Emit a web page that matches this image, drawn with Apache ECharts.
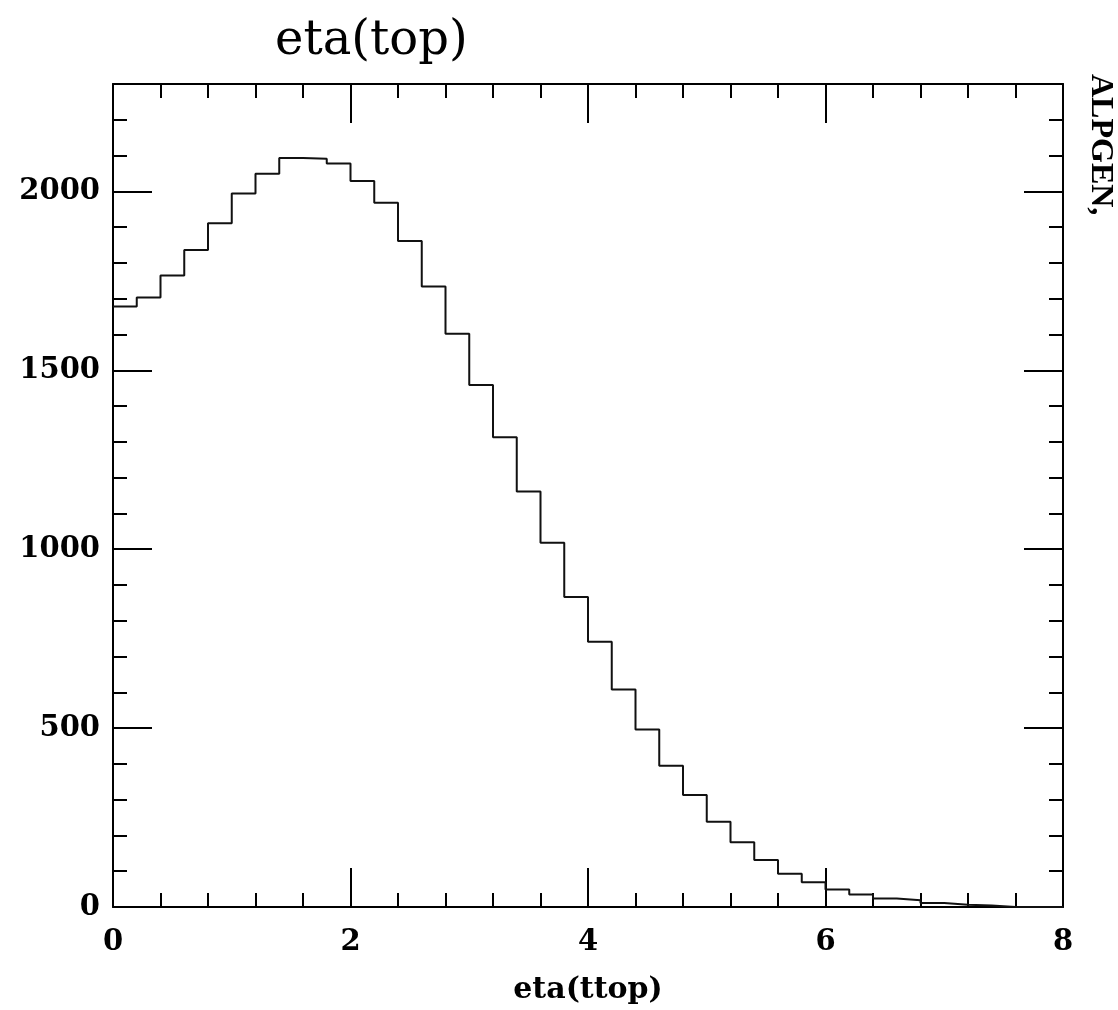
<!DOCTYPE html>
<html>
<head>
<meta charset="utf-8">
<script src="https://cdn.jsdelivr.net/npm/echarts@6/dist/echarts.min.js"></script>
<style>
  html, body { margin: 0; padding: 0; background: #fff; }
  #main { width: 1118px; height: 1010px; }
</style>
</head>
<body>
<div id="main"></div>
<script>
// histogram eta(ttop), 40 bins of 0.2 from 0 to 8
let binWidth = 0.2;
let counts = [
    1678, 1703, 1765, 1836, 1911, 1994, 2049, 2093, 2091, 2078,
    2029, 1968, 1861, 1734, 1602, 1459, 1313, 1161, 1018, 866,
    741, 608, 496, 395, 313, 238, 181, 131, 93, 69,
    49, 35, 24, 19, 11, 6, 4, 0, 0, 0
];
let xMajorTicks = [0, 2, 4, 6, 8];
let yMajorTicks = [0, 500, 1000, 1500, 2000];
let titleText = 'eta(top)';
let xName = 'eta(ttop)';
let sideLabel = 'ALPGEN,';

let chart = echarts.init(document.getElementById('main'));

// step data: left edge of each bin, plus the closing edge
let stepData = counts.map((c, i) => [i * binWidth, c]);
stepData.push([counts.length * binWidth, counts[counts.length - 1]]);

let lineCol = '#000';
let labelFont = {
    fontFamily: 'DejaVu Serif',
    fontWeight: 'bold',
    fontSize: 29,
    color: '#000'
};

function xAx(pos, major) {
    return {
        type: 'value', min: 0, max: 8, position: pos,
        interval: major ? 2 : 0.4,
        axisLine: { show: major, onZero: false, lineStyle: { color: lineCol, width: 2 } },
        axisTick: { show: true, inside: true, length: major ? 39 : 14, lineStyle: { color: lineCol, width: 2 } },
        axisLabel: (major && pos === 'bottom') ? Object.assign({ margin: 21, formatter: v => xMajorTicks.includes(v) ? String(v) : '' }, labelFont) : { show: false },
        splitLine: { show: false }
    };
}

function yAx(pos, major) {
    return {
        type: 'value', min: 0, max: 2300, position: pos,
        interval: major ? 500 : 100,
        axisLine: { show: major, onZero: false, lineStyle: { color: lineCol, width: 2 } },
        axisTick: { show: true, inside: true, length: major ? 39 : 14, lineStyle: { color: lineCol, width: 2 } },
        axisLabel: (major && pos === 'left') ? Object.assign({ margin: 13, showMaxLabel: false, formatter: v => yMajorTicks.includes(v) ? String(v) : '' }, labelFont) : { show: false },
        splitLine: { show: false }
    };
}

let xAxes = [xAx('bottom', true), xAx('bottom', false), xAx('top', true), xAx('top', false)];
xAxes[0].name = xName;
xAxes[0].nameLocation = 'middle';
xAxes[0].nameGap = 68;
xAxes[0].nameTextStyle = { fontFamily: 'DejaVu Serif', fontWeight: 'bold', fontSize: 30, color: '#000' };

let option = {
    animation: false,
    backgroundColor: '#fff',
    title: {
        text: titleText,
        left: 270,
        top: 13,
        textStyle: { fontFamily: 'DejaVu Serif', fontWeight: 'normal', fontSize: 48, color: '#000' }
    },
    grid: { left: 113, right: 55, top: 84, bottom: 103, containLabel: false },
    xAxis: xAxes,
    yAxis: [yAx('left', true), yAx('left', false), yAx('right', true), yAx('right', false)],
    graphic: [{
        type: 'text',
        x: 1100, y: 74,
        rotation: -Math.PI / 2,
        style: {
            text: sideLabel,
            fontFamily: 'Liberation Serif', fontWeight: 'bold', fontSize: 32,
            fill: '#000', textAlign: 'left', textVerticalAlign: 'middle'
        }
    }],
    series: [{
        type: 'line',
        step: 'end',
        xAxisIndex: 0,
        yAxisIndex: 0,
        showSymbol: false,
        lineStyle: { color: '#111', width: 2 },
        data: stepData
    }]
};
chart.setOption(option);
</script>
</body>
</html>
